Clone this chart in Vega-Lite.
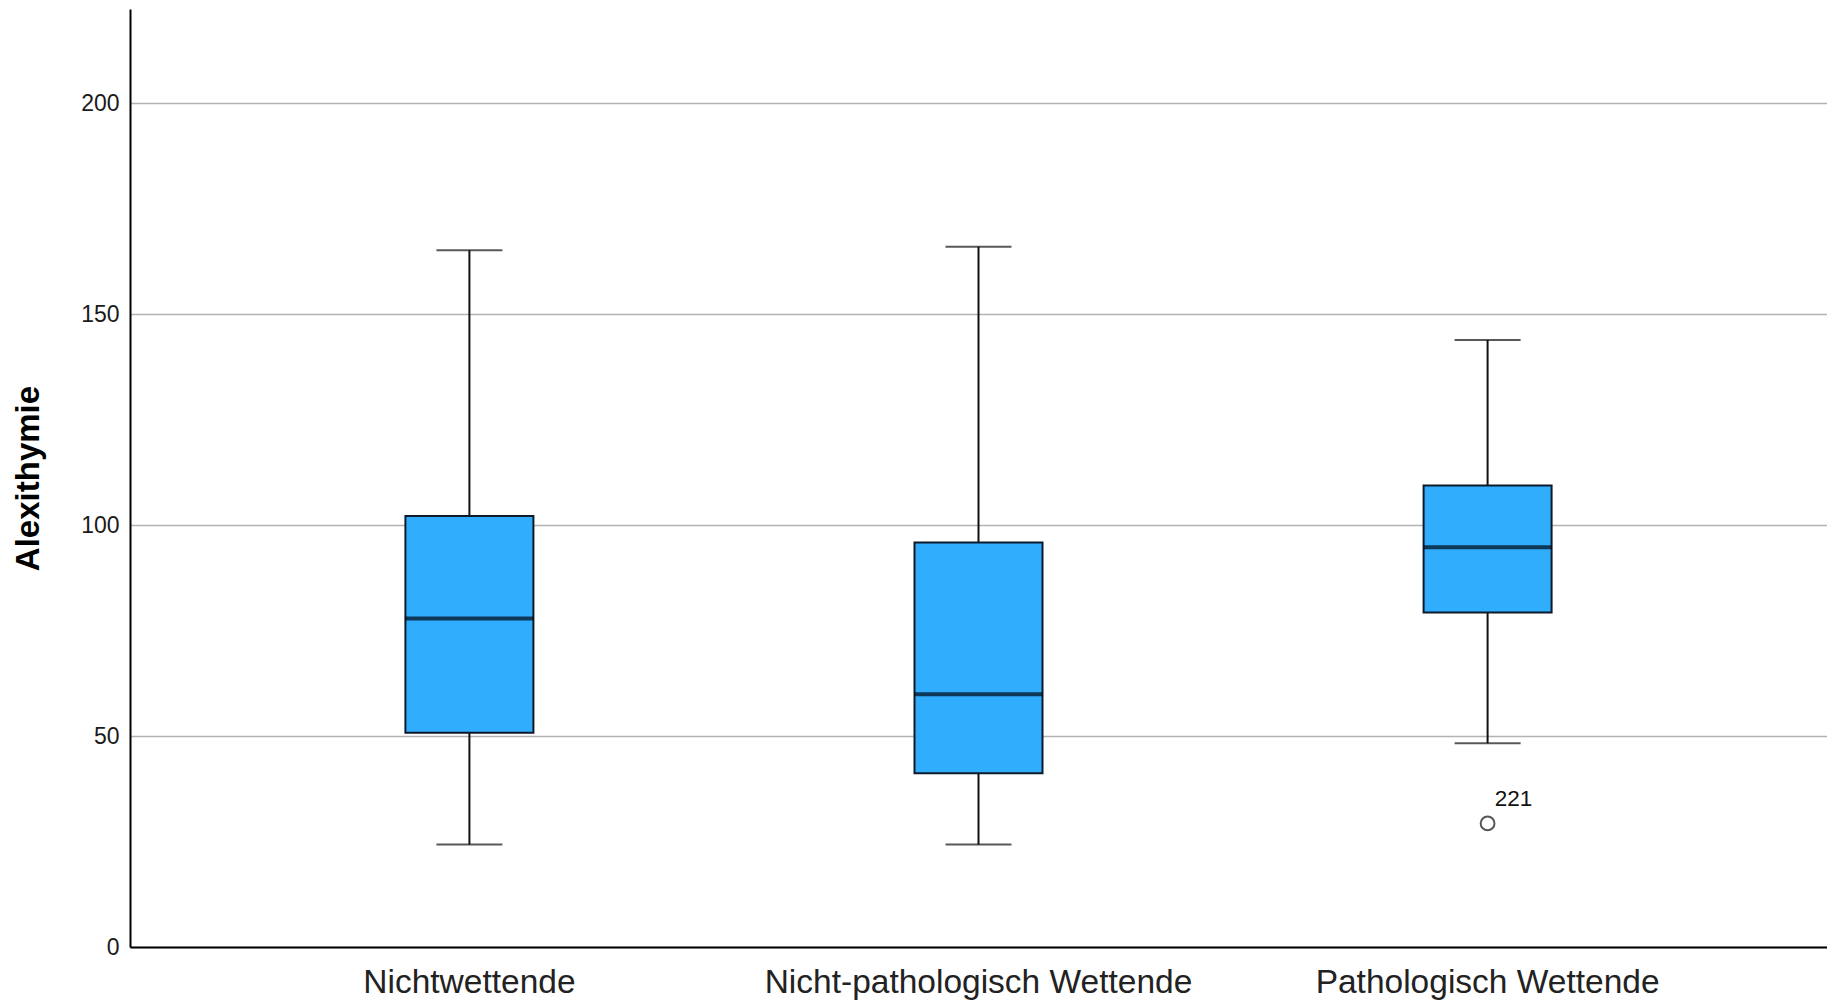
{
  "$schema": "https://vega.github.io/schema/vega-lite/v6.json",
  "width": 1697,
  "height": 938,
  "autosize": "none",
  "padding": {"left": 130, "top": 9, "right": 0, "bottom": 56},
  "background": "white",
  "config": {
    "view": {"stroke": null},
    "font": "Liberation Sans"
  },
  "datasets": {
    "boxes": [
      {"group": "Nichtwettende", "lower": 24.3, "q1": 50.8, "median": 77.9, "q3": 102.2, "upper": 165.2},
      {"group": "Nicht-pathologisch Wettende", "lower": 24.3, "q1": 41.2, "median": 59.9, "q3": 95.9, "upper": 166.0},
      {"group": "Pathologisch Wettende", "lower": 48.3, "q1": 79.3, "median": 94.8, "q3": 109.4, "upper": 143.9}
    ],
    "outliers": [
      {"group": "Pathologisch Wettende", "value": 29.3, "case": "221"}
    ]
  },
  "encoding": {
    "x": {
      "field": "group",
      "type": "nominal",
      "sort": ["Nichtwettende", "Nicht-pathologisch Wettende", "Pathologisch Wettende"],
      "scale": {"paddingInner": 0, "paddingOuter": 0.1667},
      "axis": {
        "title": null,
        "labelAngle": 0,
        "labelLimit": 0,
        "labelFont": "Liberation Sans",
        "labelFontSize": 33.5,
        "labelColor": "#222222",
        "labelPadding": 19,
        "ticks": false,
        "domainColor": "#000000",
        "domainWidth": 2,
        "grid": false
      }
    }
  },
  "layer": [
    {
      "data": {"name": "boxes"},
      "mark": {"type": "rule", "color": "#111111", "strokeWidth": 2},
      "encoding": {
        "y": {
          "field": "lower",
          "type": "quantitative",
          "scale": {"domain": [0, 222.4], "nice": false, "zero": true},
          "axis": {
            "title": "Alexithymie",
            "titleFont": "Liberation Sans",
            "titleFontSize": 33,
            "titleFontWeight": "bold",
            "titleColor": "#000000",
            "titlePadding": 35,
            "values": [0, 50, 100, 150, 200],
            "labelFont": "Liberation Sans",
            "labelFontSize": 23,
            "labelColor": "#1a1a1a",
            "labelPadding": 11,
            "ticks": false,
            "domainColor": "#000000",
            "domainWidth": 2,
            "grid": true,
            "gridColor": "#b3b3b3",
            "gridWidth": 1.5
          }
        },
        "y2": {"field": "upper"}
      }
    },
    {
      "data": {"name": "boxes"},
      "mark": {"type": "tick", "color": "#111111", "thickness": 2, "size": 66},
      "encoding": {"y": {"field": "lower", "type": "quantitative"}}
    },
    {
      "data": {"name": "boxes"},
      "mark": {"type": "tick", "color": "#111111", "thickness": 2, "size": 66},
      "encoding": {"y": {"field": "upper", "type": "quantitative"}}
    },
    {
      "data": {"name": "boxes"},
      "mark": {"type": "bar", "size": 128, "fill": "#31adfe", "stroke": "#0d1a2a", "strokeWidth": 2},
      "encoding": {
        "y": {"field": "q1", "type": "quantitative"},
        "y2": {"field": "q3"}
      }
    },
    {
      "data": {"name": "boxes"},
      "mark": {"type": "tick", "color": "#000510", "thickness": 4, "size": 128},
      "encoding": {"y": {"field": "median", "type": "quantitative"}}
    },
    {
      "data": {"name": "outliers"},
      "mark": {"type": "point", "shape": "circle", "filled": false, "size": 190, "stroke": "#111111", "strokeWidth": 2},
      "encoding": {"y": {"field": "value", "type": "quantitative"}}
    },
    {
      "data": {"name": "outliers"},
      "mark": {"type": "text", "dx": 26, "dy": -24, "fontSize": 22.5, "font": "Liberation Sans", "color": "#111111", "align": "center", "baseline": "middle"},
      "encoding": {
        "y": {"field": "value", "type": "quantitative"},
        "text": {"field": "case", "type": "nominal"}
      }
    }
  ]
}
